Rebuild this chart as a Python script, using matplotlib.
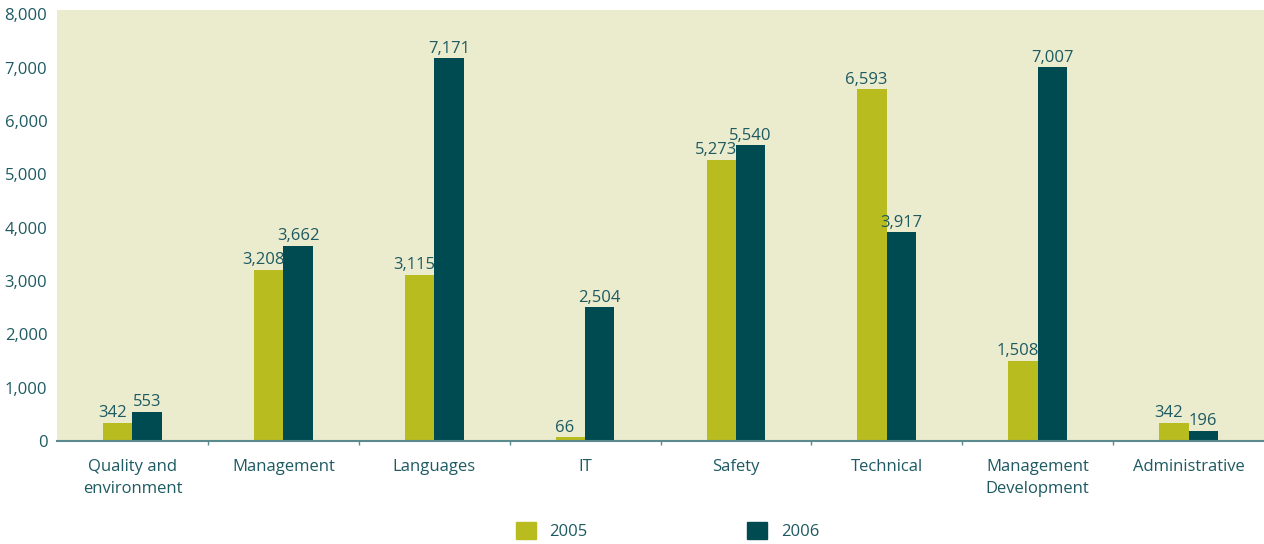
import numpy as np
import matplotlib.pyplot as plt
from matplotlib.patches import Patch

plt.rcParams['font.family'] = ['Open Sans', 'DejaVu Sans']

# categories and values
categories = ['Quality and\nenvironment', 'Management', 'Languages', 'IT', 'Safety',
              'Technical', 'Management\nDevelopment', 'Administrative']
vals_2005 = [342, 3208, 3115, 66, 5273, 6593, 1508, 342]
vals_2006 = [553, 3662, 7171, 2504, 5540, 3917, 7007, 196]
years = ['2005', '2006']

c05 = '#b8bc1e'
c06 = '#004b52'
txt = '#1d5a62'
bg = '#ebebcd'
fs = 12

fig = plt.figure(figsize=(12.64, 5.44), dpi=100)
ax = fig.add_axes([57 / 1264, 103 / 544, 1 - 57 / 1264, 431 / 544])
ax.set_facecolor(bg)

x = np.arange(len(categories))
w = 0.195
b1 = ax.bar(x - w / 2, vals_2005, w, color=c05)
b2 = ax.bar(x + w / 2, vals_2006, w, color=c06)

for rect, v in zip(b1, vals_2005):
    ax.annotate(f'{v:,}', (rect.get_x() + rect.get_width() / 2, rect.get_height()),
                xytext=(-4, 1), textcoords='offset points', ha='center', va='bottom',
                color=txt, fontsize=fs)
for rect, v in zip(b2, vals_2006):
    ax.annotate(f'{v:,}', (rect.get_x() + rect.get_width() / 2, rect.get_height()),
                xytext=(0, 1), textcoords='offset points', ha='center', va='bottom',
                color=txt, fontsize=fs)

ax.set_xlim(-0.5, len(categories) - 0.5)
ax.set_ylim(0, 8080)
ax.set_yticks(range(0, 8001, 1000))
ax.set_yticklabels([f'{t:,}' for t in range(0, 8001, 1000)])
ax.tick_params(axis='y', length=0, colors=txt, labelsize=fs, pad=7)

# category labels at centres, small ticks at the group boundaries
ax.set_xticks(x)
ax.set_xticklabels(categories, color=txt, fontsize=fs, linespacing=1.5)
ax.tick_params(axis='x', length=0, pad=13)
ax.set_xticks(np.arange(0.5, len(categories) - 0.5, 1), minor=True)
ax.tick_params(axis='x', which='minor', length=3, color='#5a8a8e', width=1)

for s in ['top', 'right', 'left']:
    ax.spines[s].set_visible(False)
ax.spines['bottom'].set_color('#5a8a8e')
ax.spines['bottom'].set_linewidth(1.5)

handles = [Patch(color=c05), Patch(color=c06)]
fig.legend(handles, years, loc='lower center', bbox_to_anchor=(0.528, -0.02), ncol=2,
           frameon=False, handlelength=1.2, handleheight=1.2, columnspacing=9.6,
           handletextpad=0.8, labelcolor=txt, fontsize=fs)

fig.savefig('out.png', dpi=100)
